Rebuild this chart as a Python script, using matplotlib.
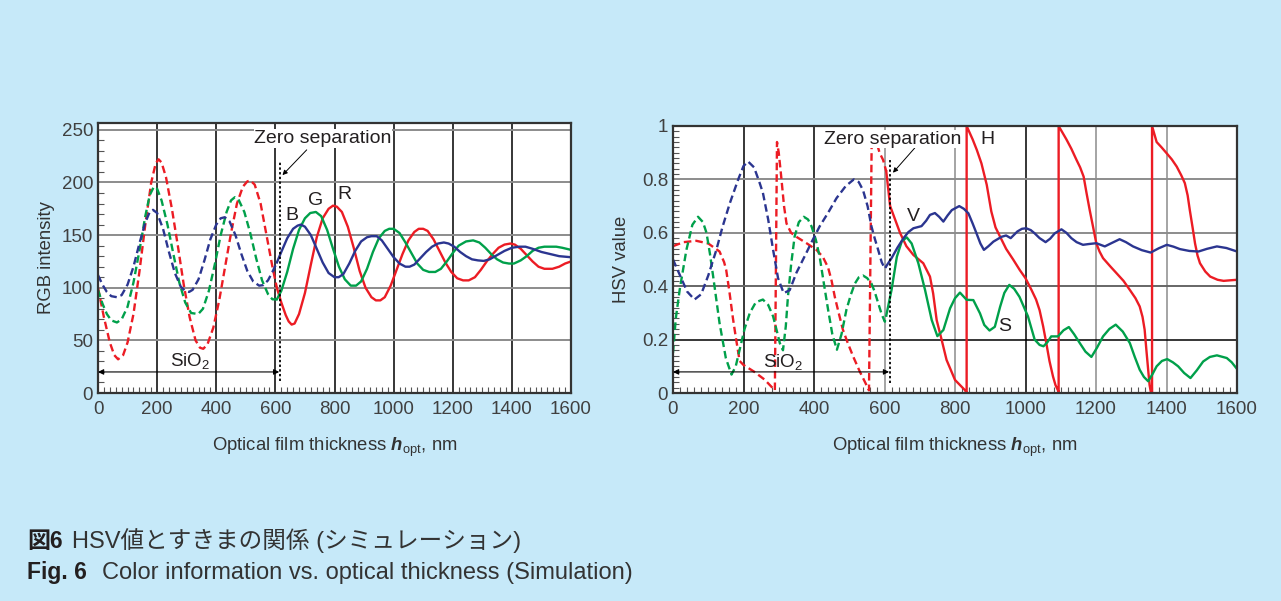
import numpy as np
import matplotlib.pyplot as plt

plt.rcParams['font.family'] = ['Liberation Sans', 'Noto Sans CJK JP']
plt.rcParams['mathtext.fontset'] = 'custom'
plt.rcParams['mathtext.rm'] = 'Liberation Sans'
plt.rcParams['mathtext.it'] = 'Liberation Sans:italic'
plt.rcParams['mathtext.bf'] = 'Liberation Sans:bold'
plt.rcParams['mathtext.bfit'] = 'Liberation Sans:italic:bold'

# ---- data ------------------------------------------------------------------
X_TICKS = [0, 200, 400, 600, 800, 1000, 1200, 1400, 1600]
RGB_TICKS = [0, 50, 100, 150, 200, 250]
HSV_TICKS = [0, 0.2, 0.4, 0.6, 0.8, 1.0]
HSV_TICK_LABELS = ['0', '0.2', '0.4', '0.6', '0.8', '1']

ZERO_SEP = 617      # nm, start of the "zero separation" region
SIO2_END = 613      # nm, end of the SiO2 arrow

# RGB intensity (left panel)
R_PTS = [(0, 100), (20, 72), (40, 48), (55, 36), (68, 32), (85, 36), (100, 48), (120, 75),
         (140, 115), (160, 160), (180, 200), (195, 218), (205, 222), (215, 219), (230, 205),
         (250, 175), (270, 140), (290, 103), (310, 72), (330, 50), (345, 43), (356, 42),
         (370, 46), (390, 62), (410, 88), (430, 120), (450, 152), (470, 180), (490, 196),
         (505, 201), (515, 202), (530, 198), (550, 180), (570, 150), (590, 120), (605, 100),
         (620, 86), (635, 74), (645, 68), (655, 65), (665, 66), (680, 75), (700, 95),
         (720, 122), (740, 148), (760, 166), (780, 175), (795, 178), (808, 177), (825, 172),
         (845, 158), (865, 138), (885, 116), (905, 100), (925, 91), (940, 88), (955, 88),
         (970, 91), (990, 102), (1010, 117), (1030, 132), (1050, 145), (1070, 153), (1085, 156),
         (1100, 156), (1115, 154), (1135, 146), (1155, 135), (1175, 124), (1195, 115),
         (1215, 109), (1235, 107), (1254, 107), (1275, 110), (1295, 117), (1315, 125),
         (1335, 132), (1355, 138), (1375, 141), (1395, 142), (1410, 141), (1430, 137),
         (1450, 131), (1470, 125), (1490, 120), (1510, 118), (1537, 118), (1560, 120),
         (1580, 123), (1600, 125)]
G_PTS = [(0, 98), (15, 85), (30, 75), (45, 69), (64, 67), (80, 70), (100, 82), (120, 105),
         (140, 135), (160, 168), (175, 188), (189, 196), (200, 194), (215, 183), (235, 160),
         (255, 132), (275, 105), (295, 86), (315, 76), (339, 75), (355, 80), (375, 97),
         (395, 122), (415, 150), (435, 172), (450, 183), (463, 186), (475, 184), (495, 172),
         (515, 152), (535, 128), (555, 107), (575, 94), (590, 89), (605, 89), (620, 97),
         (640, 115), (660, 137), (680, 155), (700, 166), (718, 171), (737, 172), (755, 168),
         (775, 155), (795, 137), (815, 120), (835, 108), (855, 102), (873, 102), (890, 106),
         (910, 118), (930, 134), (950, 147), (970, 154), (985, 156), (1000, 156), (1020, 152),
         (1040, 143), (1060, 133), (1080, 123), (1100, 117), (1120, 115), (1141, 115),
         (1160, 118), (1180, 125), (1200, 133), (1220, 140), (1245, 144), (1269, 145),
         (1290, 143), (1310, 138), (1330, 132), (1350, 127), (1370, 124), (1390, 123),
         (1407, 123), (1430, 126), (1450, 130), (1470, 135), (1490, 138), (1510, 139),
         (1529, 139), (1550, 139), (1570, 138), (1600, 136)]
B_PTS = [(0, 112), (15, 103), (30, 96), (45, 92), (64, 91), (80, 93), (100, 103), (120, 120),
         (140, 142), (160, 162), (175, 172), (186, 174), (200, 171), (220, 156), (240, 134),
         (260, 114), (280, 101), (295, 97), (308, 96), (320, 98), (340, 108), (360, 126),
         (380, 146), (400, 160), (415, 166), (429, 167), (445, 163), (465, 150), (485, 132),
         (505, 116), (525, 106), (545, 102), (559, 102.5), (575, 107), (590, 115), (605, 124),
         (620, 134), (640, 147), (660, 156), (675, 159), (686, 160), (700, 158), (720, 150),
         (740, 137), (760, 124), (780, 114), (800, 110), (814, 110), (830, 113), (850, 123),
         (870, 135), (890, 144), (910, 148), (925, 149), (943, 149), (960, 145), (980, 137),
         (1000, 129), (1020, 123), (1040, 120), (1054, 120), (1070, 122), (1090, 128),
         (1110, 134), (1130, 139), (1150, 142), (1170, 143), (1186, 142), (1205, 139),
         (1225, 134), (1245, 130), (1265, 127), (1285, 126), (1305, 125.5), (1325, 127),
         (1350, 131), (1375, 135), (1400, 138), (1425, 139), (1446, 139), (1470, 137),
         (1500, 134), (1530, 132), (1560, 130), (1600, 129)]

# HSV values (right panel)
H_PTS = [(0, 0.55), (30, 0.565), (66, 0.57), (100, 0.56), (132, 0.53), (145, 0.49), (151, 0.46),
         (160, 0.38), (170, 0.28), (178, 0.21), (189, 0.12), (200, 0.105), (230, 0.08),
         (260, 0.05), (289, 0.01), (295, 0.94), (300, 0.9), (307, 0.81), (315, 0.7),
         (322, 0.635), (335, 0.6), (350, 0.585), (380, 0.56), (407, 0.536), (425, 0.51),
         (440, 0.47), (450, 0.42), (459, 0.36), (470, 0.3), (482, 0.237), (495, 0.19),
         (511, 0.137), (530, 0.08), (545, 0.04), (556, 0.01), (564, 0.985), (575, 0.95),
         (586, 0.9), (596, 0.873), (605, 0.83), (616, 0.70), (630, 0.65), (644, 0.60),
         (662, 0.55), (682, 0.517), (710, 0.486), (729, 0.436), (738, 0.373), (748, 0.273),
         (762, 0.2), (776, 0.124), (800, 0.049), (828, 0.011), (833, 0.0), (833, 1.0),
         (850, 0.95), (862, 0.91), (875, 0.86), (890, 0.78), (903, 0.68), (915, 0.62),
         (930, 0.58), (945, 0.54), (965, 0.5), (984, 0.46), (1000, 0.43), (1017, 0.386),
         (1030, 0.35), (1040, 0.31), (1050, 0.25), (1059, 0.187), (1068, 0.12), (1078, 0.062),
         (1085, 0.03), (1092, 0.01), (1094, 0.0), (1094, 1.0), (1105, 0.975), (1116, 0.95),
         (1130, 0.915), (1144, 0.875), (1155, 0.845), (1165, 0.81), (1173, 0.75), (1182, 0.686),
         (1192, 0.62), (1201, 0.56), (1210, 0.53), (1220, 0.505), (1240, 0.475), (1258, 0.449),
         (1278, 0.42), (1296, 0.386), (1312, 0.355), (1324, 0.324), (1332, 0.285), (1338, 0.237),
         (1343, 0.16), (1348, 0.087), (1352, 0.03), (1356, 0.0), (1359, 0.0), (1359, 1.0),
         (1372, 0.94), (1386, 0.92), (1401, 0.897), (1415, 0.875), (1429, 0.848), (1442, 0.815),
         (1452, 0.786), (1460, 0.74), (1466, 0.686), (1474, 0.62), (1481, 0.56), (1488, 0.515),
         (1495, 0.486), (1510, 0.455), (1524, 0.436), (1545, 0.424), (1562, 0.42),
         (1580, 0.422), (1600, 0.424)]
S_PTS = [(0, 0.15), (8, 0.28), (19, 0.387), (38, 0.536), (55, 0.63), (71, 0.66), (85, 0.64),
         (95, 0.6), (105, 0.52), (114, 0.436), (132, 0.262), (150, 0.13), (166, 0.069),
         (178, 0.1), (189, 0.162), (203, 0.24), (218, 0.3), (235, 0.34), (255, 0.35),
         (270, 0.33), (284, 0.287), (295, 0.23), (303, 0.187), (312, 0.16), (320, 0.25),
         (326, 0.36), (335, 0.48), (345, 0.586), (357, 0.64), (371, 0.66), (383, 0.65),
         (393, 0.624), (405, 0.575), (416, 0.511), (428, 0.41), (440, 0.312), (452, 0.22),
         (465, 0.162), (478, 0.22), (492, 0.312), (505, 0.37), (516, 0.41), (527, 0.433),
         (539, 0.44), (551, 0.43), (563, 0.41), (572, 0.38), (582, 0.337), (592, 0.295),
         (601, 0.267), (605, 0.29), (620, 0.386), (635, 0.51), (649, 0.568), (663, 0.583),
         (677, 0.56), (696, 0.486), (715, 0.386), (734, 0.273), (750, 0.213), (767, 0.236),
         (786, 0.317), (800, 0.355), (814, 0.376), (833, 0.349), (852, 0.348), (871, 0.298),
         (883, 0.255), (898, 0.234), (913, 0.248), (928, 0.323), (940, 0.375), (954, 0.405),
         (968, 0.39), (983, 0.36), (1007, 0.287), (1026, 0.2), (1040, 0.18), (1051, 0.175),
         (1062, 0.19), (1073, 0.212), (1092, 0.212), (1108, 0.235), (1123, 0.247), (1138, 0.22),
         (1154, 0.187), (1170, 0.155), (1187, 0.135), (1203, 0.17), (1220, 0.212), (1238, 0.24),
         (1256, 0.256), (1276, 0.23), (1296, 0.187), (1310, 0.135), (1324, 0.087), (1336, 0.06),
         (1348, 0.044), (1360, 0.07), (1372, 0.1), (1387, 0.12), (1402, 0.127), (1418, 0.115),
         (1433, 0.1), (1450, 0.075), (1468, 0.056), (1486, 0.085), (1504, 0.118), (1523, 0.135),
         (1543, 0.141), (1571, 0.131), (1585, 0.115), (1600, 0.09)]
V_PTS = [(0, 0.5), (20, 0.44), (40, 0.38), (61, 0.35), (80, 0.37), (100, 0.44), (123, 0.536),
         (140, 0.62), (161, 0.71), (185, 0.8), (200, 0.85), (213, 0.867), (230, 0.845),
         (245, 0.79), (255, 0.75), (270, 0.65), (284, 0.536), (298, 0.43), (314, 0.374),
         (331, 0.385), (350, 0.45), (378, 0.524), (395, 0.57), (416, 0.624), (440, 0.675),
         (464, 0.73), (490, 0.775), (513, 0.8), (527, 0.79), (539, 0.76), (552, 0.7),
         (563, 0.624), (572, 0.58), (582, 0.536), (592, 0.49), (601, 0.466), (605, 0.475),
         (620, 0.505), (637, 0.545), (654, 0.58), (668, 0.603), (682, 0.617), (705, 0.625),
         (718, 0.645), (729, 0.667), (743, 0.674), (755, 0.66), (767, 0.642), (779, 0.665),
         (791, 0.685), (812, 0.70), (825, 0.69), (838, 0.673), (850, 0.635), (861, 0.598),
         (872, 0.56), (882, 0.536), (895, 0.55), (909, 0.567), (932, 0.585), (945, 0.59),
         (958, 0.58), (977, 0.605), (990, 0.615), (1002, 0.617), (1015, 0.61), (1026, 0.598),
         (1040, 0.58), (1057, 0.565), (1070, 0.578), (1083, 0.598), (1102, 0.613), (1116, 0.6),
         (1130, 0.58), (1145, 0.565), (1163, 0.555), (1180, 0.558), (1201, 0.561), (1213, 0.555),
         (1225, 0.549), (1245, 0.562), (1267, 0.576), (1285, 0.565), (1305, 0.549), (1330, 0.535),
         (1355, 0.526), (1378, 0.542), (1401, 0.555), (1420, 0.548), (1438, 0.539), (1465, 0.532),
         (1491, 0.53), (1515, 0.54), (1543, 0.549), (1570, 0.543), (1600, 0.53)]

# ---- styling ---------------------------------------------------------------
BG = '#c6e9f9'
RED, GREEN, BLUE = '#ec1c24', '#00a04a', '#2b3590'
TXT = '#231f20'
TICK_TXT = '#404040'
DASH = (3.2, 1.7)
LW = 1.7
SPLIT = 605


def draw_series(ax, pts, color):
    xy = np.array(pts, dtype=float)
    i = int(np.argmax(xy[:, 0] >= SPLIT))
    ax.plot(xy[:i + 1, 0], xy[:i + 1, 1], color=color, lw=LW, dashes=DASH, zorder=4)
    ax.plot(xy[i:, 0], xy[i:, 1], color=color, lw=LW, zorder=4, solid_joinstyle='round')


def style_axes(ax, yticks, ylabels, ymax, ymin_step, vgrid, hgrid):
    ax.set_facecolor('white')
    ax.set_xlim(0, 1600)
    ax.set_ylim(0, ymax)
    ax.set_xticks(X_TICKS)
    ax.set_xticklabels([str(t) for t in X_TICKS])
    ax.set_yticks(yticks)
    ax.set_yticklabels(ylabels)
    ax.set_xticks(np.arange(0, 1601, 20), minor=True)
    ax.set_yticks(np.arange(0, ymax + 1e-9, ymin_step), minor=True)
    ax.tick_params(which='both', direction='in', color='#555555', labelsize=13.5,
                   labelcolor=TICK_TXT)
    ax.tick_params(axis='x', which='both', pad=5.5)
    ax.tick_params(axis='y', which='both', pad=3.5)
    ax.tick_params(which='major', length=0)
    ax.tick_params(which='minor', length=4, width=0.8)
    for x, c in zip(X_TICKS[1:-1], vgrid):
        ax.axvline(x, color=c, lw=1.1, zorder=1)
    for y, c in zip(yticks[1:], hgrid):
        ax.axhline(y, color=c, lw=1.1 if c == 'k' else 1.4, zorder=1)
    for sp in ax.spines.values():
        sp.set_color('#333333')
        sp.set_linewidth(1.6)
        sp.set_zorder(5)


fig = plt.figure(figsize=(12.81, 6.01), dpi=100, facecolor=BG)

W, H = 1281, 601
ax1 = fig.add_axes([98 / W, (H - 393) / H, (571 - 98) / W, (393 - 122.5) / H])
ax2 = fig.add_axes([673 / W, (H - 393) / H, (1237 - 673) / W, (393 - 126) / H])

GRAY = '#8c8c8c'
style_axes(ax1, RGB_TICKS, [str(t) for t in RGB_TICKS], 257, 10,
           ['k'] * 7, [GRAY] * 5)
style_axes(ax2, HSV_TICKS, HSV_TICK_LABELS, 1.0, 0.02,
           ['k', 'k', GRAY, GRAY, 'k', GRAY, GRAY], ['k', '#666666', GRAY, GRAY, '#333333'])

# left panel: RGB
draw_series(ax1, R_PTS, RED)
draw_series(ax1, G_PTS, GREEN)
draw_series(ax1, B_PTS, BLUE)

# right panel: HSV
draw_series(ax2, H_PTS, RED)
draw_series(ax2, S_PTS, GREEN)
draw_series(ax2, V_PTS, BLUE)

# zero separation marker, SiO2 span
for ax, ytop, ybot, yarr, ysio, txt_xy, arr_from, arr_to in [
        (ax1, 219, 11, 20, 30, (761, 242), (706, 231), (624, 207)),
        (ax2, 0.873, 0.037, 0.079, 0.115, (624, 0.951), (686, 0.918), (624, 0.825))]:
    ax.plot([ZERO_SEP, ZERO_SEP], [ybot, ytop], color='k', lw=1.3,
            dashes=(1.3, 1.3), zorder=6)
    ax.annotate('', xy=(0, yarr), xytext=(SIO2_END, yarr),
                arrowprops=dict(arrowstyle='<|-|>', lw=0.8, color='k',
                                mutation_scale=8, shrinkA=0, shrinkB=0), zorder=6)
    ax.text(SIO2_END / 2 + 5, ysio, 'SiO$_2$', ha='center', va='center',
            fontsize=13.5, color=TXT, zorder=7)
    ax.text(*txt_xy, 'Zero separation', ha='center', va='center', fontsize=14,
            color=TXT, zorder=7,
            bbox=dict(facecolor='white', edgecolor='none', pad=0.5))
    ax.annotate('', xy=arr_to, xytext=arr_from,
                arrowprops=dict(arrowstyle='-|>', lw=0.7, color='k',
                                mutation_scale=7, shrinkA=0, shrinkB=0), zorder=6)

for lab, x, y in [('B', 656, 169), ('G', 737, 183), ('R', 832, 189)]:
    ax1.text(x, y, lab, ha='center', va='center', fontsize=14, color=TXT, zorder=7)
for lab, x, y in [('H', 891, 0.95), ('V', 681, 0.66), ('S', 942, 0.248)]:
    ax2.text(x, y, lab, ha='center', va='center', fontsize=14, color=TXT, zorder=7)

xlabel = r'Optical film thickness $\mathbfit{h}_{\mathrm{opt}}$, nm'
ax1.text(0.5, -0.2, xlabel, transform=ax1.transAxes, ha='center', va='center',
         fontsize=13.3, color='#333333')
ax2.text(0.5, -0.202, xlabel, transform=ax2.transAxes, ha='center', va='center',
         fontsize=13.3, color='#333333')
ax1.text(-0.108, 0.5, 'RGB intensity', transform=ax1.transAxes, rotation=90,
         ha='center', va='center', fontsize=13.3, color='#333333')
ax2.text(-0.092, 0.5, 'HSV value', transform=ax2.transAxes, rotation=90,
         ha='center', va='center', fontsize=13.3, color='#333333')

# captions
t1 = fig.text(27 / W, 1 - 541 / H, '図6', fontsize=16.5, fontweight='bold',
              color=TXT, va='center', ha='left')
fig.add_artist(plt.Annotation('HSV値とすきまの関係 (シミュレーション)', xy=(1, 0.5),
                              xycoords=t1, xytext=(7, 0), textcoords='offset points',
                              va='center', ha='left', fontsize=17, color='#333333'))
t2 = fig.text(27 / W, 1 - 573 / H, 'Fig. 6', fontsize=16.5, fontweight='bold',
              color=TXT, va='center', ha='left')
fig.add_artist(plt.Annotation('Color information vs. optical thickness (Simulation)',
                              xy=(1, 0.5), xycoords=t2, xytext=(11, 0),
                              textcoords='offset points', va='center', ha='left',
                              fontsize=17, color='#333333'))

fig.savefig('out.png', dpi=100, facecolor=BG)
